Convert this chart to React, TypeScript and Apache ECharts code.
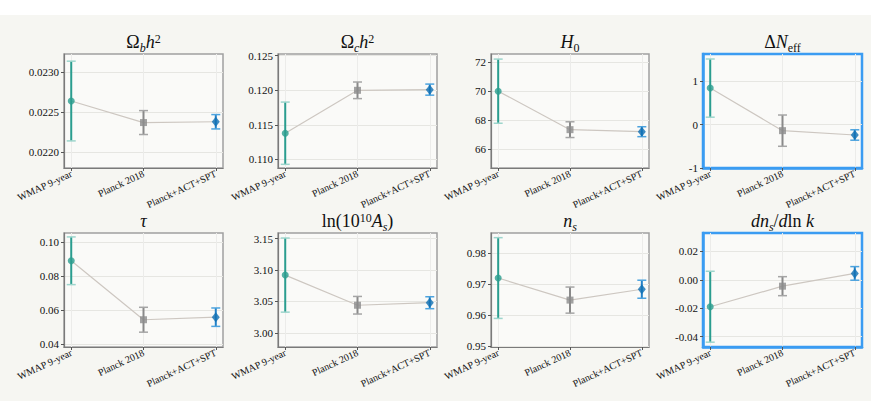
import React, { useEffect, useRef } from 'react';
import * as echarts from 'echarts';

const categories = ['WMAP 9-year', 'Planck 2018', 'Planck+ACT+SPT'];

const omegaBh2 = [0.02264, 0.02237, 0.02238];
const omegaBh2Err = [0.0005, 0.00015, 0.00009];
const omegaBh2Ticks = [0.022, 0.0225, 0.023];

const omegaCh2 = [0.1138, 0.12, 0.1201];
const omegaCh2Err = [0.0045, 0.0012, 0.0008];
const omegaCh2Ticks = [0.11, 0.115, 0.12, 0.125];

const hubble = [70.0, 67.36, 67.22];
const hubbleErr = [2.2, 0.54, 0.34];
const hubbleTicks = [66, 68, 70, 72];

const deltaNeff = [0.84, -0.14, -0.24];
const deltaNeffErr = [0.67, 0.36, 0.12];
const deltaNeffTicks = [-1, 0, 1];

const tau = [0.089, 0.0544, 0.0559];
const tauErr = [0.014, 0.0073, 0.0054];
const tauTicks = [0.04, 0.06, 0.08, 0.1];

const lnAs = [3.092, 3.044, 3.048];
const lnAsErr = [0.059, 0.014, 0.0095];
const lnAsTicks = [3.0, 3.05, 3.1, 3.15];

const ns = [0.972, 0.9649, 0.9684];
const nsErr = [0.013, 0.0042, 0.0029];
const nsTicks = [0.95, 0.96, 0.97, 0.98];

const running = [-0.019, -0.0045, 0.0045];
const runningErr = [0.025, 0.0067, 0.0048];
const runningTicks = [-0.04, -0.02, 0.0, 0.02];

const SERIF = 'Liberation Serif, DejaVu Serif, serif';
const markerColors = ['#2a9d8f', '#8c8c8c', '#0f6fb3'];
const barColors = ['#2a9d8f', '#8a8a8a', '#2382c9'];
const capColors = ['#9dd5cc', '#a5a5a5', '#4da3de'];
const symbols = ['circle', 'rect', 'diamond'];
const symbolSizes: any[] = [7, 7, [8, 10]];
const BLUE = '#3b9cf2';

const panels = [
  { title: '{n|Ω}{sb|b}{i|h}{sp|2}', values: omegaBh2, errors: omegaBh2Err, ticks: omegaBh2Ticks, dec: 4, min: 0.0218, max: 0.02323, hl: false },
  { title: '{n|Ω}{sb|c}{i|h}{sp|2}', values: omegaCh2, errors: omegaCh2Err, ticks: omegaCh2Ticks, dec: 3, min: 0.10877, max: 0.12525, hl: false },
  { title: '{i|H}{su|0}', values: hubble, errors: hubbleErr, ticks: hubbleTicks, dec: 0, min: 64.73, max: 72.55, hl: false },
  { title: '{n|Δ}{i|N}{su|eff}', values: deltaNeff, errors: deltaNeffErr, ticks: deltaNeffTicks, dec: 0, min: -1.0, max: 1.625, hl: true },
  { title: '{i|τ}', values: tau, errors: tauErr, ticks: tauTicks, dec: 2, min: 0.0384, max: 0.1053, hl: false },
  { title: '{n|ln(10}{sp|10}{i|A}{sb|s}{n|)}', values: lnAs, errors: lnAsErr, ticks: lnAsTicks, dec: 2, min: 2.9775, max: 3.159, hl: false },
  { title: '{i|n}{sb|s}', values: ns, errors: nsErr, ticks: nsTicks, dec: 2, min: 0.9498, max: 0.9865, hl: false },
  { title: '{i|dn}{sb|s}{n|/}{i|d}{n|ln }{i|k}', values: running, errors: runningErr, ticks: runningTicks, dec: 2, min: -0.0474, max: 0.033, hl: true },
];

const colLeft = [64, 278, 491, 703];
const colWidth = [159, 159, 158, 159];
const rowTop = [54, 233];
const gridHeight = 114;

const base = { fontFamily: SERIF, fontWeight: 'normal', color: '#111', verticalAlign: 'top' };
const rich = {
  n: { ...base, fontSize: 18, lineHeight: 24 },
  i: { ...base, fontSize: 18, fontStyle: 'italic', lineHeight: 24 },
  sb: { ...base, fontSize: 12, fontStyle: 'italic', lineHeight: 12, padding: [9, 0, 0, 0] },
  su: { ...base, fontSize: 12, lineHeight: 12, padding: [9, 0, 0, 0] },
  sp: { ...base, fontSize: 12, lineHeight: 12, padding: [0, 0, 12, 0] },
};

function buildOption() {
  const grid: any[] = [];
  const xAxis: any[] = [];
  const yAxis: any[] = [];
  const series: any[] = [];
  const title: any[] = [];

  panels.forEach((p, k) => {
    const c = k % 4;
    const r = Math.floor(k / 4);
    const left = colLeft[c];
    const top = rowTop[r];
    const width = colWidth[c];
    grid.push({
      left, top, width, height: gridHeight,
      show: true,
      backgroundColor: '#fafaf8',
      borderColor: p.hl ? BLUE : '#a0a0a0',
      borderWidth: p.hl ? 2.5 : 1.5,
      containLabel: false,
      outerBoundsMode: 'none',
    });
    title.push({
      text: p.title,
      left: left + width / 2,
      top: top - 21,
      textAlign: 'center',
      padding: 0,
      textStyle: { fontFamily: SERIF, fontWeight: 'normal', fontSize: 18, color: '#111', rich },
    });
    const axisLineStyle = { color: p.hl ? BLUE : '#7a7a7a', width: p.hl ? 2.5 : 1.2 };
    xAxis.push({
      type: 'value', gridIndex: k, min: -0.1, max: 2.1,
      axisLine: { show: true, onZero: false, lineStyle: axisLineStyle },
      axisTick: { show: true, customValues: [0, 1, 2], length: 3, lineStyle: { color: '#555' } },
      axisLabel: {
        customValues: [0, 1, 2],
        formatter: (v: number) => categories[Math.round(v)],
        rotate: 25, fontSize: 10, fontFamily: SERIF, color: '#111', margin: 5,
      },
      splitLine: { show: true, lineStyle: { color: '#ececea', width: 1 } },
    });
    yAxis.push({
      type: 'value', gridIndex: k, min: p.min, max: p.max,
      axisLine: { show: true, onZero: false, lineStyle: axisLineStyle },
      axisTick: { show: true, customValues: p.ticks, length: 3, lineStyle: { color: '#555' } },
      axisLabel: {
        customValues: p.ticks,
        formatter: (v: number) => v.toFixed(p.dec),
        fontSize: 11, fontFamily: SERIF, color: '#111', margin: 5,
      },
      splitLine: { show: true, lineStyle: { color: '#e6e6e2', width: 1 } },
    });
    series.push({
      type: 'line', xAxisIndex: k, yAxisIndex: k, silent: true, z: 1,
      data: p.values.map((v, i) => [i, v]),
      symbol: 'none',
      lineStyle: { color: '#cdc7c1', width: 1.2 },
    });
    series.push({
      type: 'custom', xAxisIndex: k, yAxisIndex: k, silent: true, z: 2,
      encode: { x: 0, y: [1, 2] },
      data: p.values.map((v, i) => [i, v - p.errors[i], v + p.errors[i]]),
      renderItem: (params: any, api: any) => {
        const i = params.dataIndex;
        const x = api.value(0);
        const hi = api.coord([x, api.value(2)]);
        const lo = api.coord([x, api.value(1)]);
        const hw = 4.5;
        return {
          type: 'group',
          children: [
            { type: 'line', shape: { x1: hi[0], y1: hi[1], x2: lo[0], y2: lo[1] }, style: { stroke: barColors[i], lineWidth: 2 } },
            { type: 'line', shape: { x1: hi[0] - hw, y1: hi[1], x2: hi[0] + hw, y2: hi[1] }, style: { stroke: capColors[i], lineWidth: 1.5 } },
            { type: 'line', shape: { x1: lo[0] - hw, y1: lo[1], x2: lo[0] + hw, y2: lo[1] }, style: { stroke: capColors[i], lineWidth: 1.5 } },
          ],
        };
      },
    });
    series.push({
      type: 'scatter', xAxisIndex: k, yAxisIndex: k, silent: true, z: 3,
      data: p.values.map((v, i) => ({
        value: [i, v],
        symbol: symbols[i],
        symbolSize: symbolSizes[i],
        itemStyle: { color: markerColors[i] },
      })),
    });
  });

  return {
    animation: false,
    backgroundColor: '#f6f6f2',
    graphic: [
      { type: 'rect', left: 0, top: 0, shape: { width: 871, height: 15 }, style: { fill: '#ffffff' }, silent: true },
    ],
    title,
    grid,
    xAxis,
    yAxis,
    series,
  };
}

export default function App() {
  const ref = useRef<HTMLDivElement>(null);
  useEffect(() => {
    if (!ref.current) return;
    const chart = echarts.init(ref.current, null, { renderer: 'svg' });
    chart.setOption(buildOption() as any);
    return () => chart.dispose();
  }, []);
  return (
    <div
      ref={ref}
      style={{ position: 'fixed', left: 0, top: 0, width: 871, height: 401 }}
    />
  );
}
